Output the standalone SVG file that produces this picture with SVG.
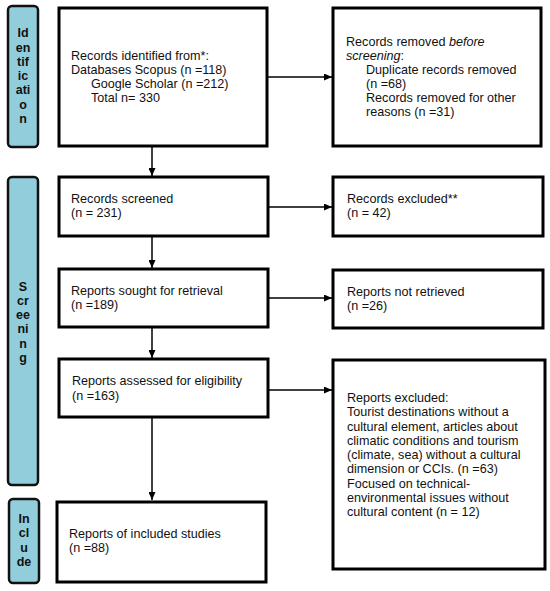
<svg xmlns="http://www.w3.org/2000/svg" width="550" height="591" viewBox="0 0 550 591">
<defs>
<style>
.box{fill:#fff;stroke:#000;stroke-width:3}
.bar{fill:#92cddb;stroke:#111;stroke-width:2.5}
.t{font-family:"Liberation Sans",Arial,sans-serif;font-size:12.6px;fill:#111}
.b{font-family:"Liberation Sans",Arial,sans-serif;font-size:12.5px;font-weight:bold;fill:#111;text-anchor:middle}
.c{stroke:#000;stroke-width:1.5;fill:none;marker-end:url(#ah)}
</style>
<marker id="ah" viewBox="0 0 10 10" refX="10" refY="5" markerWidth="8" markerHeight="7" markerUnits="userSpaceOnUse" orient="auto" preserveAspectRatio="none"><path d="M0,0L10,5L0,10z" fill="#000"/></marker>
</defs>
<rect width="550" height="591" fill="#fff"/>
<g id="bar-identification">
<rect class="bar" x="8" y="6" width="30" height="141" rx="4"/>
<text class="b" x="23" y="37">Id</text><text class="b" x="23" y="51.5">en</text><text class="b" x="23" y="66">tif</text><text class="b" x="23" y="80">ic</text><text class="b" x="23" y="94">ati</text><text class="b" x="23" y="108.5">o</text><text class="b" x="23" y="123">n</text>
</g>
<g id="bar-screening">
<rect class="bar" x="8" y="177" width="30" height="308" rx="4"/>
<text class="b" x="23" y="291">S</text><text class="b" x="23" y="305">cr</text><text class="b" x="23" y="319">ee</text><text class="b" x="23" y="333">ni</text><text class="b" x="23" y="347.5">n</text><text class="b" x="23" y="361.5">g</text>
</g>
<g id="bar-include">
<rect class="bar" x="9" y="499" width="30" height="84" rx="4"/>
<text class="b" x="24" y="523">In</text><text class="b" x="24" y="537">cl</text><text class="b" x="24" y="551.5">u</text><text class="b" x="24" y="566">de</text>
</g>
<g id="connectors">
<line class="c" x1="267" y1="77" x2="332" y2="77"/>
<line class="c" x1="152" y1="146" x2="152" y2="176"/>
<line class="c" x1="267" y1="207" x2="332" y2="207"/>
<line class="c" x1="152" y1="236" x2="152" y2="268"/>
<line class="c" x1="267" y1="298" x2="332" y2="298"/>
<line class="c" x1="152" y1="327" x2="152" y2="358"/>
<line class="c" x1="267" y1="390" x2="332" y2="390"/>
<line class="c" x1="152" y1="417" x2="152" y2="500"/>
</g>
<g id="records-identified">
<rect class="box" x="59" y="8" width="208" height="138"/>
<text class="t" x="71" y="60">Records identified from*:</text>
<text class="t" x="71" y="74">Databases Scopus (n =118)</text>
<text class="t" x="91" y="88">Google Scholar (n =212)</text>
<text class="t" x="91" y="102">Total n= 330</text>
</g>
<g id="records-removed">
<rect class="box" x="333" y="8" width="208" height="138"/>
<text class="t" x="346" y="46">Records removed <tspan font-style="italic">before</tspan></text>
<text class="t" x="346" y="60"><tspan font-style="italic">screening</tspan>:</text>
<text class="t" x="366" y="74">Duplicate records removed</text>
<text class="t" x="366" y="88">(n =68)</text>
<text class="t" x="366" y="102">Records removed for other</text>
<text class="t" x="366" y="116">reasons (n =31)</text>
</g>
<g id="records-screened">
<rect class="box" x="59" y="177" width="209" height="59"/>
<text class="t" x="71" y="203">Records screened</text>
<text class="t" x="71" y="217">(n = 231)</text>
</g>
<g id="records-excluded">
<rect class="box" x="333" y="177" width="210" height="59"/>
<text class="t" x="347" y="203">Records excluded**</text>
<text class="t" x="347" y="217">(n = 42)</text>
</g>
<g id="reports-sought">
<rect class="box" x="59" y="269" width="209" height="58"/>
<text class="t" x="71" y="294.5">Reports sought for retrieval</text>
<text class="t" x="71" y="308.5">(n =189)</text>
</g>
<g id="reports-not-retrieved">
<rect class="box" x="333" y="270" width="210" height="58"/>
<text class="t" x="347" y="296">Reports not retrieved</text>
<text class="t" x="347" y="310">(n =26)</text>
</g>
<g id="reports-assessed">
<rect class="box" x="59" y="359" width="209" height="58"/>
<text class="t" x="72" y="385">Reports assessed for eligibility</text>
<text class="t" x="72" y="399.5">(n =163)</text>
</g>
<g id="reports-excluded">
<rect class="box" x="333" y="360" width="212" height="209"/>
<text class="t" x="347" y="402">Reports excluded:</text>
<text class="t" x="347" y="416">Tourist destinations without a</text>
<text class="t" x="347" y="430.5">cultural element, articles about</text>
<text class="t" x="347" y="444.5">climatic conditions and tourism</text>
<text class="t" x="347" y="459">(climate, sea) without a cultural</text>
<text class="t" x="347" y="473">dimension or CCIs. (n =63)</text>
<text class="t" x="347" y="487.5">Focused on technical-</text>
<text class="t" x="347" y="501.5">environmental issues without</text>
<text class="t" x="347" y="516">cultural content (n = 12)</text>
</g>
<g id="reports-included">
<rect class="box" x="57" y="502" width="209" height="80"/>
<text class="t" x="69" y="538">Reports of included studies</text>
<text class="t" x="69" y="552">(n =88)</text>
</g>
</svg>
